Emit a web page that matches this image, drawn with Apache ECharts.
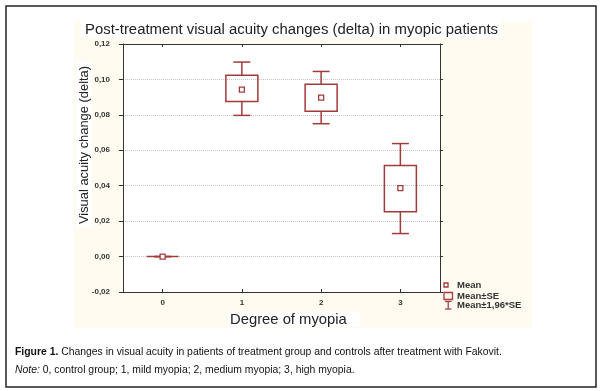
<!DOCTYPE html>
<html>
<head>
<meta charset="utf-8">
<script src="https://cdn.jsdelivr.net/npm/echarts@6/dist/echarts.min.js"></script>
<style>
html,body{margin:0;padding:0;background:#fff;}
#chart{width:600px;height:391px;}
</style>
</head>
<body>
<div id="chart"></div>
<script>
// ---- data ----
var categories = ['0', '1', '2', '3'];
var means   = [0, 0.0943, 0.0897, 0.0386];
var seLow   = [0, 0.0876, 0.0821, 0.0253];
var seHigh  = [0, 0.1024, 0.0973, 0.0514];
var ciLow   = [0, 0.0797, 0.0750, 0.0130];
var ciHigh  = [0, 0.1098, 0.1045, 0.0638];
var yMin = -0.02, yMax = 0.12, yStep = 0.02;

var titleText = 'Post-treatment visual acuity changes (delta) in myopic patients';
var yTitle = 'Visual acuity change (delta)';
var xTitle = 'Degree of myopia';
var legendNames = ['Mean', 'Mean\u00b1SE', 'Mean\u00b11,96*SE'];
var captionBold = 'Figure 1.';
var captionText = ' Changes in visual acuity in patients of treatment group and controls after treatment with Fakovit.';
var noteItalic = 'Note:';
var noteText = ' 0, control group; 1, mild myopia; 2, medium myopia; 3, high myopia.';

var RED = '#a23a3c';
var FONT = 'Liberation Sans, Arial, sans-serif';
var CAPFONT = 'Liberation Sans Narrow, Arial Narrow, ' + FONT;

var seriesData = categories.map(function (c, i) {
  return [i, means[i], seLow[i], seHigh[i], ciLow[i], ciHigh[i]];
});

function fmt(v) {
  return v.toFixed(2).replace('.', ',');
}

var chart = echarts.init(document.getElementById('chart'), null, {renderer: 'canvas'});

var option = {
  backgroundColor: '#fff',
  animation: false,
  grid: {left: 123, top: 44, right: 160, bottom: 99, show: true, backgroundColor: '#fff', borderWidth: 0},
  xAxis: [{
    type: 'category', data: categories, position: 'bottom',
    axisLine: {onZero: false, lineStyle: {color: '#333', width: 1}},
    axisTick: {show: true, inside: true, length: 3, alignWithLabel: true, lineStyle: {color: '#333'}},
    axisLabel: {fontSize: 8, color: '#333', margin: 7, fontFamily: FONT, fontWeight: 'bold'},
    splitLine: {show: false}
  }, {
    type: 'category', data: categories, position: 'top',
    axisLine: {onZero: false, lineStyle: {color: '#333', width: 1}},
    axisTick: {show: true, inside: true, length: 3, alignWithLabel: true, lineStyle: {color: '#333'}},
    axisLabel: {show: false}
  }],
  yAxis: [{
    type: 'value', min: yMin, max: yMax, interval: yStep, position: 'left',
    axisLine: {show: true, onZero: false, lineStyle: {color: '#333', width: 1}},
    axisTick: {show: true, length: 4, lineStyle: {color: '#333'}},
    axisLabel: {fontSize: 8, color: '#333', margin: 13, fontFamily: FONT, fontWeight: 'bold', formatter: fmt},
    splitLine: {show: true, lineStyle: {color: '#c4c4c4', type: 'dotted', width: 1}}
  }, {
    type: 'value', min: yMin, max: yMax, interval: yStep, position: 'right',
    axisLine: {show: true, onZero: false, lineStyle: {color: '#333', width: 1}},
    axisTick: {show: true, length: 3, lineStyle: {color: '#333'}},
    axisLabel: {show: false},
    splitLine: {show: false}
  }],
  series: [{
    type: 'custom',
    xAxisIndex: 0, yAxisIndex: 0,
    data: seriesData,
    renderItem: function (params, api) {
      var i = api.value(0);
      var x = api.coord([i, 0])[0];
      var yMean = api.coord([i, api.value(1)])[1];
      var ySeL = api.coord([i, api.value(2)])[1];
      var ySeH = api.coord([i, api.value(3)])[1];
      var yCiL = api.coord([i, api.value(4)])[1];
      var yCiH = api.coord([i, api.value(5)])[1];
      var bw = 16, cw = 8.5;
      var st = {stroke: RED, lineWidth: 1.5, fill: null};
      return {
        type: 'group',
        children: [
          {type: 'line', shape: {x1: x, y1: yCiH, x2: x, y2: ySeH}, style: st},
          {type: 'line', shape: {x1: x, y1: ySeL, x2: x, y2: yCiL}, style: st},
          {type: 'line', shape: {x1: x - cw, y1: yCiH, x2: x + cw, y2: yCiH}, style: st},
          {type: 'line', shape: {x1: x - cw, y1: yCiL, x2: x + cw, y2: yCiL}, style: st},
          {type: 'rect', shape: {x: x - bw, y: ySeH, width: 2 * bw, height: Math.max(ySeL - ySeH, 0)}, style: st},
          {type: 'rect', shape: {x: x - 2.5, y: yMean - 2.5, width: 5, height: 5}, style: {stroke: RED, lineWidth: 1.3, fill: '#fff'}}
        ]
      };
    }
  }],
  graphic: [
    // cream panel behind the chart
    {type: 'rect', z: -10, shape: {x: 74, y: 21, width: 458, height: 307}, style: {fill: '#fffbf0'}},
    // title box
    {type: 'rect', z: -5, shape: {x: 81, y: 21, width: 421, height: 17}, style: {fill: '#fff'}},
    {type: 'text', x: 85, y: 29.5, style: {text: titleText, font: '14.9px ' + FONT, fill: '#222', textVerticalAlign: 'middle'}},
    // y title
    {type: 'rect', z: -5, shape: {x: 76, y: 62, width: 16, height: 165}, style: {fill: '#fff'}},
    {type: 'text', x: 84, y: 145, rotation: Math.PI / 2,
      style: {text: yTitle, font: '12.9px ' + FONT, fill: '#222', textAlign: 'center', textVerticalAlign: 'middle'}},
    // x title
    {type: 'rect', z: -5, shape: {x: 228, y: 312, width: 132, height: 15}, style: {fill: '#fff'}},
    {type: 'text', x: 230, y: 319.5, style: {text: xTitle, font: '14.8px ' + FONT, fill: '#222', textVerticalAlign: 'middle'}},
    // legend
    {type: 'rect', shape: {x: 444, y: 283, width: 4, height: 4}, style: {stroke: RED, lineWidth: 1.3, fill: '#fff'}},
    {type: 'text', x: 457, y: 285, style: {text: legendNames[0], font: 'bold 9.5px ' + FONT, fill: '#333', textVerticalAlign: 'middle'}},
    {type: 'rect', shape: {x: 444, y: 292.5, width: 8.5, height: 7}, style: {stroke: RED, lineWidth: 1.3, fill: 'none'}},
    {type: 'text', x: 457, y: 296.5, style: {text: legendNames[1], font: 'bold 9.5px ' + FONT, fill: '#333', textVerticalAlign: 'middle'}},
    {type: 'line', shape: {x1: 445, y1: 301.5, x2: 451.5, y2: 301.5}, style: {stroke: RED, lineWidth: 1.2}},
    {type: 'line', shape: {x1: 448.2, y1: 301.5, x2: 448.2, y2: 309}, style: {stroke: RED, lineWidth: 1.2}},
    {type: 'line', shape: {x1: 445, y1: 309, x2: 451.5, y2: 309}, style: {stroke: RED, lineWidth: 1.2}},
    {type: 'text', x: 457, y: 305.5, style: {text: legendNames[2], font: 'bold 9.5px ' + FONT, fill: '#333', textVerticalAlign: 'middle'}},
    // caption
    {type: 'text', x: 15, y: 352.5, style: {
      text: '{b|' + captionBold + '}{n|' + captionText + '}',
      textVerticalAlign: 'middle',
      rich: {
        b: {font: 'bold 10.4px ' + CAPFONT, fill: '#111'},
        n: {font: '10.4px ' + CAPFONT, fill: '#111'}
      }
    }},
    {type: 'text', x: 15, y: 370, style: {
      text: '{i|' + noteItalic + '}{n|' + noteText + '}',
      textVerticalAlign: 'middle',
      rich: {
        i: {font: 'italic 10.4px ' + CAPFONT, fill: '#111'},
        n: {font: '10.4px ' + CAPFONT, fill: '#111'}
      }
    }},
    // outer frame
    {type: 'rect', z: 100, shape: {x: 6, y: 6, width: 590, height: 381}, style: {stroke: '#222', lineWidth: 1.5, fill: 'none'}}
  ]
};
chart.setOption(option);
</script>
</body>
</html>
